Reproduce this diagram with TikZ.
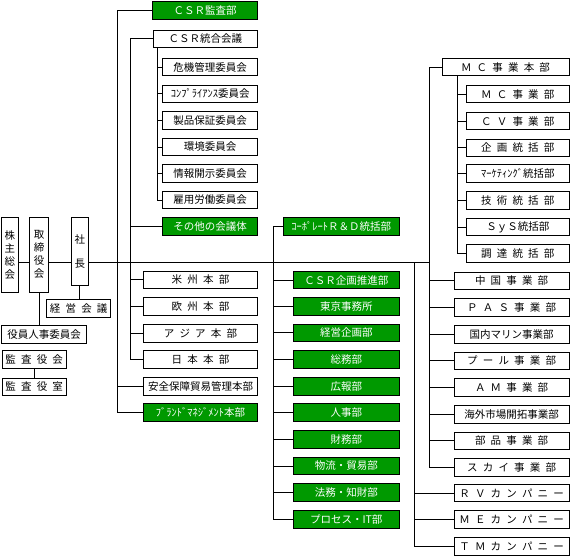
\documentclass[tikz,border=0pt]{standalone}
\usepackage{fontspec}
\setmainfont{Noto Sans CJK JP}[WordSpace=2.2]
\usepackage{xcolor}
\definecolor{deptgreen}{RGB}{0,153,0}

\begin{document}
\begin{tikzpicture}[x=1pt,y=-1pt,line width=0.9pt,
  box/.style={draw,fill=white,inner sep=0pt,minimum height=17.5pt,
    font=\fontsize{10.5}{13}\selectfont},
  gbox/.style={box,fill=deptgreen,text=white},
  vbox/.style={box,align=center}]
 \useasboundingbox (0,0) rectangle (572,556);
 % top management
 \node[vbox,minimum width=16.6pt,minimum height=75pt] (kabunushi) at (10,254.8) {株\\主\\総\\会};
 \node[vbox,minimum width=19.4pt,minimum height=75pt] (torishimari) at (39,254.8) {取\\締\\役\\会};
 \node[vbox,minimum width=17pt,minimum height=68.4pt] (shacho) at (79.8,251.5) {社\\[11pt]長};
 \node[box,minimum width=64pt] (keiei) at (78.7,308.2) {経 営 会 議};
 \node[box,minimum width=85pt] (jinji) at (44.2,334.5) {役員人事委員会};
 \node[box,minimum width=63.7pt] (kansakai) at (34.2,359.5) {監 査 役 会};
 \node[box,minimum width=63.7pt] (kansashitsu) at (34.2,386.8) {監 査 役 室};
 \coordinate (spine) at (429.5,262.3);
 \draw (kabunushi.east |- spine) -- (torishimari.west |- spine);
 \draw (torishimari.east |- spine) -- (shacho.west |- spine);
 \draw (shacho.east |- spine) -- (spine);
 \draw (torishimari.south) -- (torishimari.south |- jinji.north);
 \draw (shacho.south) -- (shacho.south |- keiei.north);
 \draw (kansakai.south) -- (kansashitsu.north);

 % CSR and regional HQs
 \node[gbox,minimum width=105pt] (csrkansa) at (205.1,10.5) {ＣＳＲ監査部};
 \node[box,minimum width=104.7pt,minimum height=16.5pt] (csrkaigi) at (205.3,38.8) {ＣＳＲ統合会議};
 \node[box,minimum width=95pt] (kiki) at (210.2,67.2) {危機管理委員会};
 \node[box,minimum width=95pt] (compliance) at (210.2,93.9) {ｺﾝﾌﾟﾗｲｱﾝｽ委員会};
 \node[box,minimum width=95pt] (seihin) at (210.2,120.5) {製品保証委員会};
 \node[box,minimum width=95pt] (kankyo) at (210.2,147) {環境委員会};
 \node[box,minimum width=95pt] (joho) at (210.2,173.7) {情報開示委員会};
 \node[box,minimum width=95pt] (koyo) at (210.2,200) {雇用労働委員会};
 \node[gbox,minimum width=95pt] (sonota) at (210.2,226.3) {その他の会議体};
 \node[box,minimum width=114.4pt] (beishu) at (200.5,279.7) {米 州 本 部};
 \node[box,minimum width=114.4pt] (oshu) at (200.5,306.3) {欧 州 本 部};
 \node[box,minimum width=114.4pt] (asia) at (200.5,333.2) {ア ジ ア 本 部};
 \node[box,minimum width=114.4pt] (nihon) at (200.5,359.5) {日 本 本 部};
 \node[box,minimum width=114.4pt] (anzen) at (200.5,386.3) {安全保障貿易管理本部};
 \node[gbox,minimum width=114.4pt] (brand) at (200.5,412.2) {ﾌﾞﾗﾝﾄﾞﾏﾈｼﾞﾒﾝﾄ本部};
 \coordinate (t1) at (117.3,0);
 \coordinate (t2) at (130.3,0);
 \coordinate (t3) at (157.3,0);
 \draw (csrkansa.west) -- (csrkansa.west -| t1) -- (brand.west -| t1) -- (brand.west);
 \draw (anzen.west) -- (anzen.west -| t1);
 \draw (csrkaigi.west) -- (csrkaigi.west -| t2) -- (nihon.west -| t2) -- (nihon.west);
 \draw (sonota.west) -- (sonota.west -| t2);
 \draw (beishu.west) -- (beishu.west -| t2);
 \draw (oshu.west) -- (oshu.west -| t2);
 \draw (asia.west) -- (asia.west -| t2);
 \draw (csrkaigi.south -| t3) -- (koyo.west -| t3) -- (koyo.west);
 \draw (kiki.west) -- (kiki.west -| t3);
 \draw (compliance.west) -- (compliance.west -| t3);
 \draw (seihin.west) -- (seihin.west -| t3);
 \draw (kankyo.west) -- (kankyo.west -| t3);
 \draw (joho.west) -- (joho.west -| t3);

 % corporate staff
 \node[gbox,minimum width=116pt] (rd) at (341.3,226.5) {ｺｰﾎﾟﾚｰﾄＲ＆Ｄ統括部};
 \node[gbox,minimum width=106pt] (csrkikaku) at (346.3,280) {ＣＳＲ企画推進部};
 \node[gbox,minimum width=106pt] (tokyo) at (346.3,306.3) {東京事務所};
 \node[gbox,minimum width=106pt] (keieikikaku) at (346.3,332.7) {経営企画部};
 \node[gbox,minimum width=106pt] (somu) at (346.3,359.5) {総務部};
 \node[gbox,minimum width=106pt] (koho) at (346.3,386.3) {広報部};
 \node[gbox,minimum width=106pt] (jinjibu) at (346.3,412.5) {人事部};
 \node[gbox,minimum width=106pt] (zaimu) at (346.3,439.3) {財務部};
 \node[gbox,minimum width=106pt] (butsuryu) at (346.3,466) {物流・貿易部};
 \node[gbox,minimum width=106pt] (homu) at (346.3,492.3) {法務・知財部};
 \node[gbox,minimum width=106pt] (process) at (346.3,519.3) {プロセス・IT部};
 \coordinate (t4) at (273.3,0);
 \draw (rd.west) -- (rd.west -| t4) -- (process.west -| t4) -- (process.west);
 \draw (csrkikaku.west) -- (csrkikaku.west -| t4);
 \draw (tokyo.west) -- (tokyo.west -| t4);
 \draw (keieikikaku.west) -- (keieikikaku.west -| t4);
 \draw (somu.west) -- (somu.west -| t4);
 \draw (koho.west) -- (koho.west -| t4);
 \draw (jinjibu.west) -- (jinjibu.west -| t4);
 \draw (zaimu.west) -- (zaimu.west -| t4);
 \draw (butsuryu.west) -- (butsuryu.west -| t4);
 \draw (homu.west) -- (homu.west -| t4);

 % business units
 \node[box,minimum width=127pt,minimum height=16.7pt] (mchq) at (505.5,67.3) {Ｍ Ｃ 事 業 本 部};
 \node[box,minimum width=102.3pt] (mc) at (517.8,94.2) {Ｍ Ｃ 事 業 部};
 \node[box,minimum width=102.3pt] (cv) at (517.8,121.2) {Ｃ Ｖ 事 業 部};
 \node[box,minimum width=102.3pt] (kikakutokatsu) at (517.8,147.8) {企 画 統 括 部};
 \node[box,minimum width=102.3pt] (marketing) at (517.8,173.7) {ﾏｰｹﾃｨﾝｸﾞ統括部};
 \node[box,minimum width=102.3pt] (gijutsu) at (517.8,200.5) {技 術 統 括 部};
 \node[box,minimum width=102.3pt] (sys) at (517.8,227) {ＳｙＳ統括部};
 \node[box,minimum width=102.3pt] (chotatsu) at (517.8,253.5) {調 達 統 括 部};
 \node[box,minimum width=114.7pt] (china) at (511.6,280.8) {中 国 事 業 部};
 \node[box,minimum width=114.7pt] (pas) at (511.6,307.5) {Ｐ Ａ Ｓ 事 業 部};
 \node[box,minimum width=114.7pt] (marine) at (511.6,334.2) {国内マリン事業部};
 \node[box,minimum width=114.7pt] (pool) at (511.6,360.8) {プ ー ル 事 業 部};
 \node[box,minimum width=114.7pt] (am) at (511.6,387.5) {Ａ Ｍ 事 業 部};
 \node[box,minimum width=114.7pt] (kaigai) at (511.6,414.2) {海外市場開拓事業部};
 \node[box,minimum width=114.7pt] (buhin) at (511.6,440.8) {部 品 事 業 部};
 \node[box,minimum width=114.7pt] (sky) at (511.6,467.5) {ス カ イ 事 業 部};
 \node[box,minimum width=114.7pt] (rv) at (511.6,493) {Ｒ Ｖ カ ン パ ニ ー};
 \node[box,minimum width=114.7pt] (me) at (511.6,519.5) {Ｍ Ｅ カ ン パ ニ ー};
 \node[box,minimum width=114.7pt] (tm) at (511.6,546.2) {Ｔ Ｍ カ ン パ ニ ー};
 \coordinate (t5) at (429.5,0);
 \coordinate (t6) at (457.7,0);
 \coordinate (t7) at (414.3,0);
 \draw (mchq.west) -- (mchq.west -| t5) -- (sky.west -| t5) -- (sky.west);
 \draw (china.west) -- (china.west -| t5);
 \draw (pas.west) -- (pas.west -| t5);
 \draw (marine.west) -- (marine.west -| t5);
 \draw (pool.west) -- (pool.west -| t5);
 \draw (am.west) -- (am.west -| t5);
 \draw (kaigai.west) -- (kaigai.west -| t5);
 \draw (buhin.west) -- (buhin.west -| t5);
 \draw (mchq.south -| t6) -- (chotatsu.west -| t6) -- (chotatsu.west);
 \draw (mc.west) -- (mc.west -| t6);
 \draw (cv.west) -- (cv.west -| t6);
 \draw (kikakutokatsu.west) -- (kikakutokatsu.west -| t6);
 \draw (marketing.west) -- (marketing.west -| t6);
 \draw (gijutsu.west) -- (gijutsu.west -| t6);
 \draw (sys.west) -- (sys.west -| t6);
 \draw (t7 |- spine) -- (tm.west -| t7) -- (tm.west);
 \draw (rv.west) -- (rv.west -| t7);
 \draw (me.west) -- (me.west -| t7);
\end{tikzpicture}
\end{document}
